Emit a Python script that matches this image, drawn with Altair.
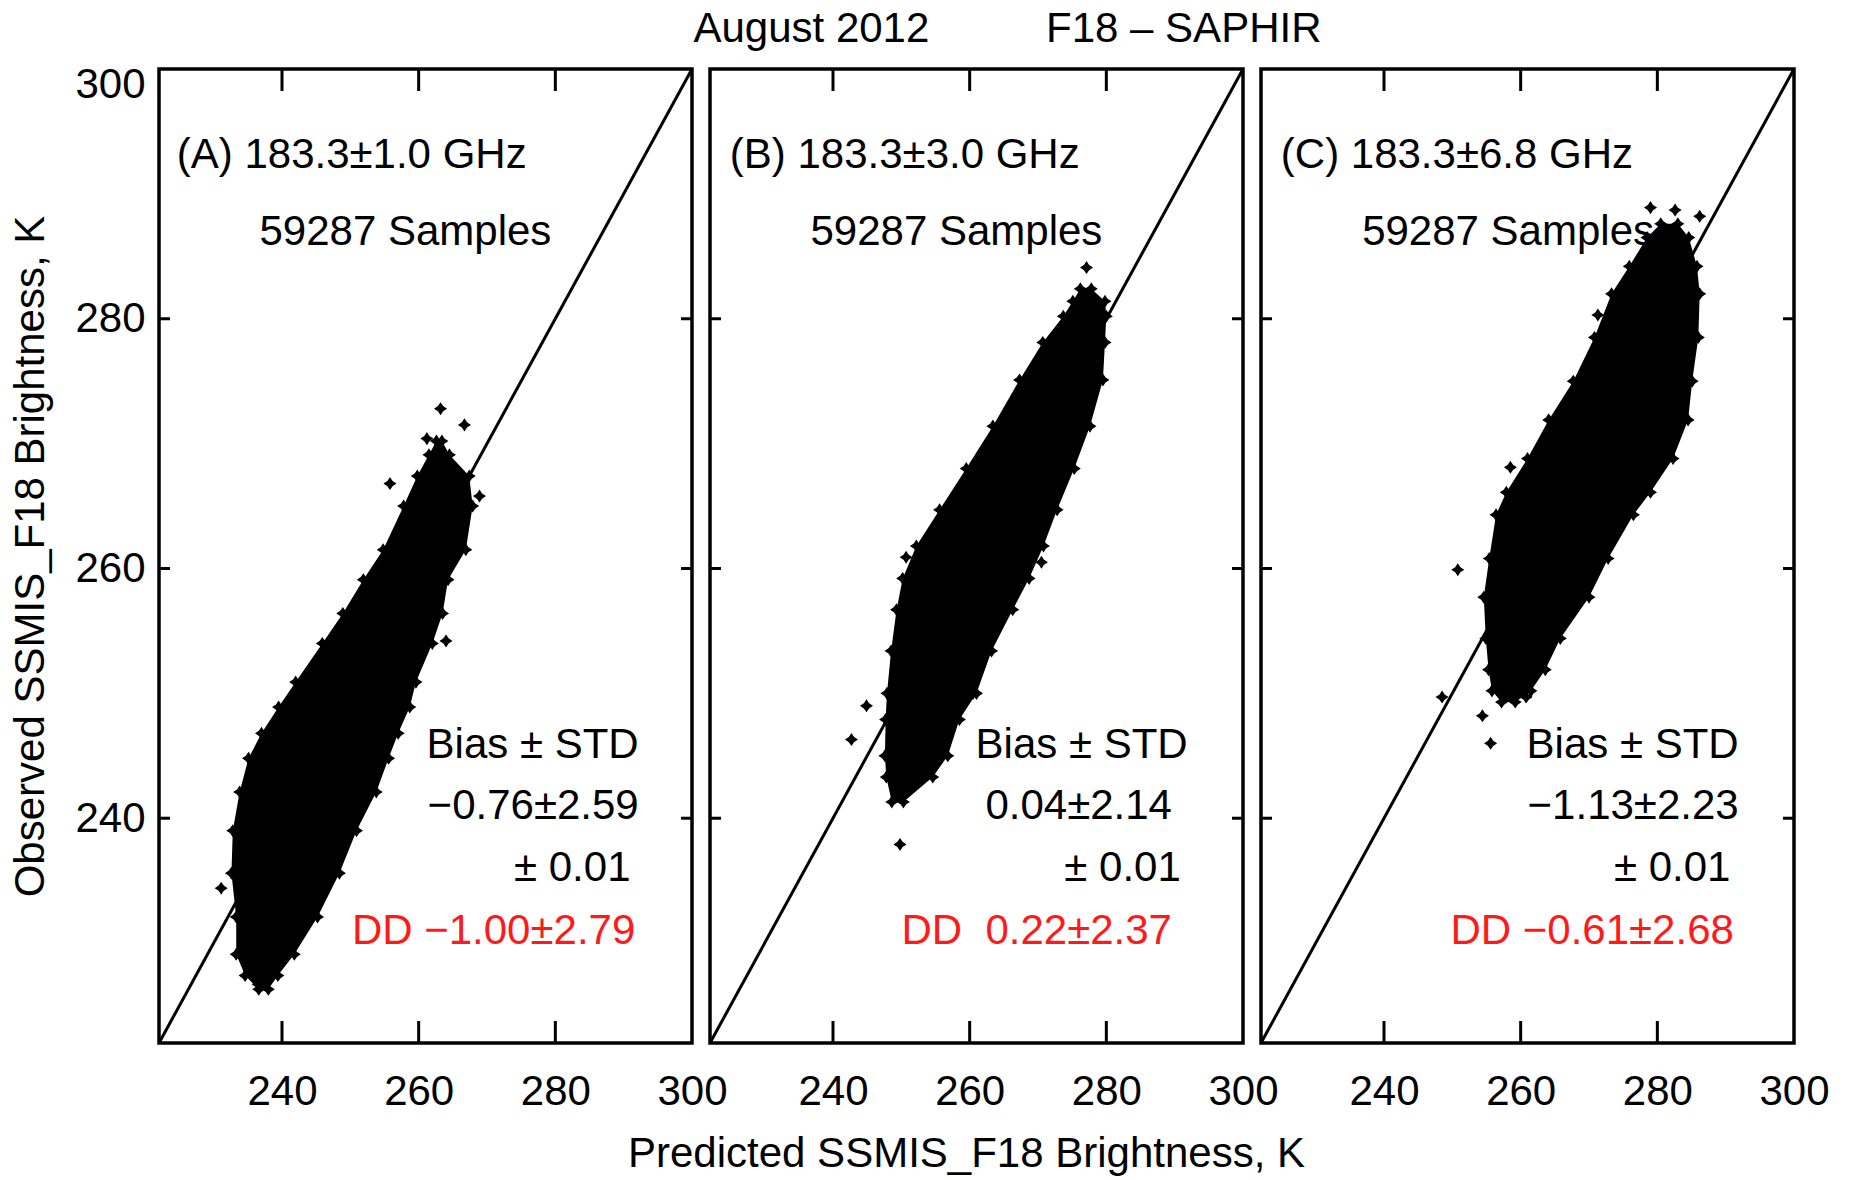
import altair as alt
import pandas as pd

# ---------------- data (all in K) ----------------
DOMAIN = [222, 300]
TICK_VALUES = [240, 260, 280]
LABEL_VALUES = [240, 260, 280, 300]

freq_text = ["(A) 183.3±1.0 GHz", "(B) 183.3±3.0 GHz", "(C) 183.3±6.8 GHz"]
sample_text = ["59287 Samples", "59287 Samples", "59287 Samples"]
stat_header = ["Bias ± STD", "Bias ± STD", "Bias ± STD"]
bias_std = ["−0.76±2.59", "0.04±2.14", "−1.13±2.23"]
bias_err = ["± 0.01", "± 0.01", "± 0.01"]
dd_text = ["DD −1.00±2.79", "DD\u00a0\u00a00.22±2.37", "DD −0.61±2.68"]

# dense scatter cloud traced as horizontal slices: observed level, left / right predicted edge
a_y = [226.3, 227.4, 229.1, 232.1, 235.6, 239.0, 242.1, 244.8, 246.8, 248.9, 250.9, 254.0, 256.4, 259.1, 261.5, 265.0, 267.4, 269.1, 270.2]
a_left = [236.6, 234.6, 233.3, 233.3, 232.6, 232.8, 233.8, 235.1, 237.0, 239.5, 242.0, 245.9, 248.9, 251.9, 254.8, 257.8, 259.8, 261.5, 262.6]
a_right = [238.0, 239.4, 241.8, 245.2, 248.4, 250.9, 253.8, 255.6, 257.0, 258.7, 259.6, 262.0, 263.5, 264.3, 266.9, 267.9, 267.4, 264.5, 263.4]
a_out_x = [263.2, 266.7, 261.2, 264.0, 231.1, 268.9, 255.8, 236.5]
a_out_y = [272.8, 271.5, 270.4, 254.2, 234.4, 265.8, 266.8, 226.7]

b_y = [241.3, 243.3, 245.0, 247.9, 250.0, 253.4, 256.7, 259.2, 261.8, 264.7, 268.0, 271.4, 275.1, 278.1, 280.2, 281.4, 282.4]
b_left = [248.6, 247.8, 247.6, 247.7, 247.9, 248.5, 249.3, 250.2, 252.2, 255.6, 259.5, 263.4, 267.3, 270.7, 273.7, 275.1, 276.2]
b_right = [250.3, 254.6, 256.8, 258.5, 261.0, 263.2, 266.3, 268.7, 270.8, 272.8, 275.3, 277.6, 279.5, 279.8, 280.0, 279.8, 277.8]
b_out_x = [277.1, 244.9, 242.7, 249.8, 250.7, 270.5, 260.5]
b_out_y = [284.1, 249.0, 246.3, 237.9, 260.9, 260.5, 250.0]

c_y = [249.3, 250.2, 251.9, 254.4, 257.7, 260.8, 264.3, 266.1, 268.8, 271.9, 275.0, 278.5, 282.0, 284.2, 286.5, 287.6]
c_left = [257.2, 255.8, 255.3, 254.9, 254.6, 255.4, 256.4, 257.9, 261.0, 264.1, 267.7, 270.8, 273.3, 275.9, 278.5, 280.5]
c_right = [259.2, 261.5, 263.6, 265.8, 270.0, 272.8, 276.5, 279.0, 282.3, 284.5, 285.1, 286.0, 286.2, 285.8, 284.6, 283.0]
c_out_x = [279.0, 282.6, 286.2, 250.8, 254.4, 255.6, 260.8, 248.5, 271.3, 258.5]
c_out_y = [288.9, 288.7, 288.2, 259.9, 248.2, 246.0, 249.7, 249.7, 280.3, 268.1]

blob_y = [a_y, b_y, c_y]
blob_left = [a_left, b_left, c_left]
blob_right = [a_right, b_right, c_right]
out_x = [a_out_x, b_out_x, c_out_x]
out_y = [a_out_y, b_out_y, c_out_y]

# ---------------- layout / style ----------------
FONT = "Liberation Sans"
FS = 42
W, H = 533, 974
XTICK_LEN, YTICK_LEN = 22, 11
FREQ_X = [224.6, 224.9, 224.9]
FREQ_Y = 293.1
SAMPLES_X = [236.7, 236.7, 236.8]
SAMPLES_Y = 286.95
STAT_ROWS_Y = [245.9, 241.0, 236.0, 231.0]
STAT_END_X = [[292.2, 292.2, 291.0, 291.7],
              [291.9, 289.6, 290.9, 289.6],
              [291.9, 291.9, 290.7, 291.2]]
STAR = "M0,-1L0.4,-0.4L1,0L0.4,0.4L0,1L-0.4,0.4L-1,0L-0.4,-0.4Z"

xs = alt.Scale(domain=DOMAIN, nice=False, zero=False)
ys = alt.Scale(domain=DOMAIN, nice=False, zero=False)


def panel(i):
    blob = pd.DataFrame({"y": blob_y[i], "xl": blob_left[i], "xr": blob_right[i]})
    pts = pd.DataFrame({
        "x": blob_left[i] + blob_right[i] + out_x[i],
        "y": blob_y[i] + blob_y[i] + out_y[i],
    })
    diag = pd.DataFrame({"x": DOMAIN, "y": DOMAIN})
    ticks = pd.DataFrame({"x": TICK_VALUES, "y": TICK_VALUES})
    left_txt = pd.DataFrame({
        "x": [FREQ_X[i], SAMPLES_X[i]],
        "y": [FREQ_Y, SAMPLES_Y],
        "t": [freq_text[i], sample_text[i]],
    })
    right_txt = pd.DataFrame({
        "x": STAT_END_X[i],
        "y": STAT_ROWS_Y,
        "t": [stat_header[i], bias_std[i], bias_err[i], dd_text[i]],
        "c": ["black", "black", "black", "#ff1a1a"],
    })

    x_title = "Predicted SSMIS_F18 Brightness, K" if i == 1 else ""
    xax = alt.Axis(values=LABEL_VALUES, ticks=False, domain=False, grid=False,
                   labelPadding=28, labelOverlap=False, labelBound=False,
                   labelFlush=False, title=x_title, titlePadding=21, titleX=256)
    if i == 0:
        yax = alt.Axis(values=LABEL_VALUES, ticks=False, domain=False, grid=False,
                       labelPadding=14, labelFlush=True, labelFlushOffset=5,
                       labelOverlap=False,
                       title="Observed SSMIS_F18 Brightness, K", titlePadding=22)
    else:
        yax = None

    def X(f):
        return alt.X(f, scale=xs, axis=xax)

    def Y(f):
        return alt.Y(f, scale=ys, axis=yax)

    base_area = alt.Chart(blob).mark_area(orient="horizontal", color="black", opacity=1).encode(
        y=Y("y:Q"), x=X("xl:Q"), x2="xr:Q",
    )
    stars = alt.Chart(pts).mark_point(shape=STAR, size=170, filled=True, color="black",
                                      opacity=1).encode(x=X("x:Q"), y=Y("y:Q"))
    diag_line = alt.Chart(diag).mark_line(color="black", strokeWidth=3).encode(
        x=X("x:Q"), y=Y("y:Q"))
    rule_kw = dict(color="black", strokeWidth=3)
    bottom_ticks = alt.Chart(ticks).mark_rule(**rule_kw).encode(
        x=X("x:Q"), y=alt.value(H), y2=alt.value(H - XTICK_LEN))
    top_ticks = alt.Chart(ticks).mark_rule(**rule_kw).encode(
        x=X("x:Q"), y=alt.value(0), y2=alt.value(XTICK_LEN))
    left_ticks = alt.Chart(ticks).mark_rule(**rule_kw).encode(
        y=Y("y:Q"), x=alt.value(0), x2=alt.value(YTICK_LEN))
    right_ticks = alt.Chart(ticks).mark_rule(**rule_kw).encode(
        y=Y("y:Q"), x=alt.value(W), x2=alt.value(W - YTICK_LEN))

    ltxt = alt.Chart(left_txt).mark_text(align="left", baseline="middle", font=FONT,
                                         fontSize=FS, color="black").encode(
        x=X("x:Q"), y=Y("y:Q"), text="t:N")
    rtxt = alt.Chart(right_txt).mark_text(align="right", baseline="middle", font=FONT,
                                          fontSize=FS).encode(
        x=X("x:Q"), y=Y("y:Q"), text="t:N",
        color=alt.Color("c:N", scale=None))
    return alt.layer(base_area, stars, diag_line, bottom_ticks, top_ticks,
                     left_ticks, right_ticks, ltxt, rtxt).properties(width=W, height=H)


title = alt.TitleParams(
    text="August 2012" + "\u00a0" * 10 + "F18 – SAPHIR",
    font=FONT, fontSize=FS, fontWeight="normal", color="black",
    anchor="middle", offset=10, dx=88,
)

chart = alt.hconcat(panel(0), panel(1), panel(2), spacing=18, bounds="flush").properties(
    title=title,
    padding={"left": 8, "top": 8, "right": 5, "bottom": 5},
    background="white",
).configure_view(
    stroke="black", strokeWidth=3.5,
).configure_axis(
    labelFont=FONT, labelFontSize=FS, labelColor="black",
    titleFont=FONT, titleFontSize=FS, titleColor="black", titleFontWeight="normal",
)

chart.save("out.html", embed_options={"renderer": "svg", "actions": False})
